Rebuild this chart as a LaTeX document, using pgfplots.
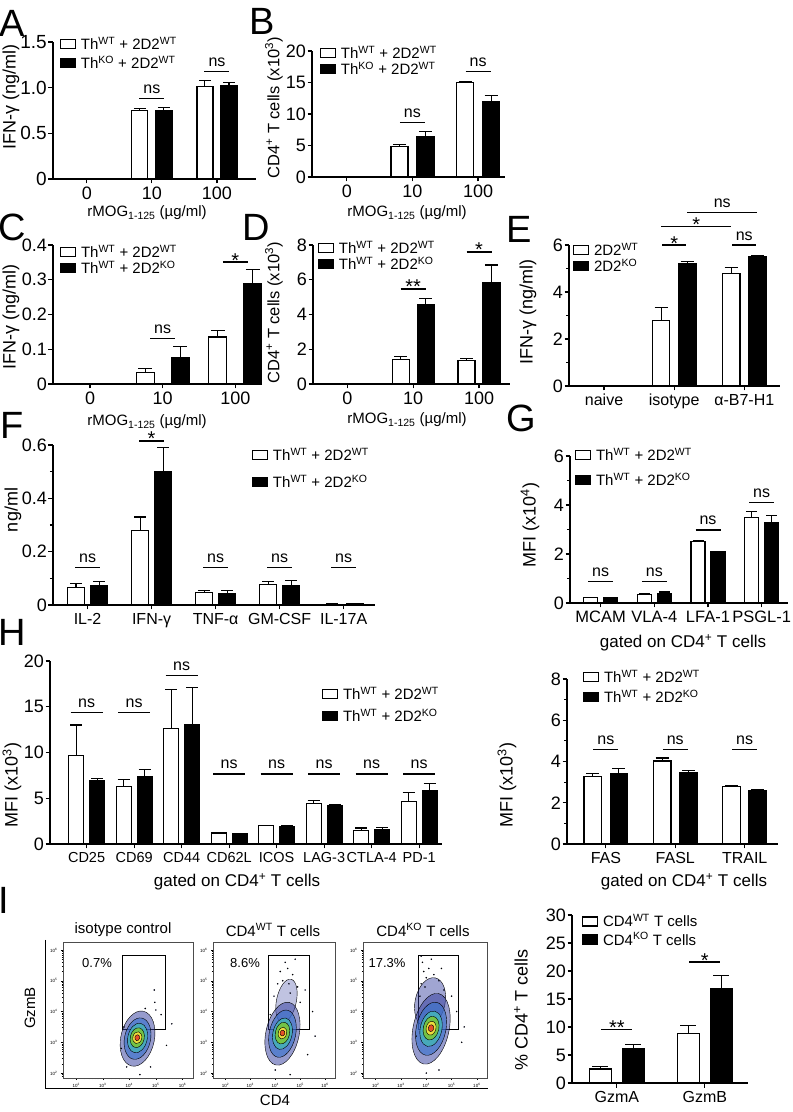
\documentclass[border=0pt]{standalone}
\usepackage{fontspec}
\setmainfont{Liberation Sans}
\usepackage{pgfplots}
\pgfplotsset{compat=1.18}

\newcommand\fTick{\fontsize{18}{18}\selectfont}
\newcommand\fTickA{\fontsize{19}{19}\selectfont}
\newcommand\fCat{\fontsize{16}{16}\selectfont}
\newcommand\fCatH{\fontsize{14.5}{14.5}\selectfont}
\newcommand\fCatG{\fontsize{16.5}{16.5}\selectfont}
\newcommand\fLab{\fontsize{18}{18}\selectfont}
\newcommand\fLabB{\fontsize{16.5}{16.5}\selectfont}
\newcommand\fXLab{\fontsize{15}{15}\selectfont}
\newcommand\fGLab{\fontsize{17}{17}\selectfont}
\newcommand\fLeg{\fontsize{15}{15}\selectfont}
\newcommand\fNs{\fontsize{16}{16}\selectfont}
\newcommand\fStar{\fontsize{20}{20}\selectfont}
\newcommand\fLet{\fontsize{38}{38}\selectfont}
\newcommand\fFlow{\fontsize{4.5}{5}\selectfont}
\newcommand\fFT{\fontsize{15}{15}\selectfont}

\definecolor{fBlue}{RGB}{45,55,155}
\definecolor{fBlue2}{RGB}{60,115,205}
\definecolor{fCyan}{RGB}{70,175,185}
\definecolor{fGreen}{RGB}{115,195,70}
\definecolor{fYellow}{RGB}{238,222,60}
\definecolor{fRed}{RGB}{228,80,40}

\pgfplotsset{
 prism/.style={
  scale only axis, clip=false, enlargelimits=false,
  axis x line*=bottom, axis y line*=left,
  axis line style={line width=1.3pt, -},
  every tick/.style={black, line width=1.2pt},
  tick align=outside, major tick length=4.5pt, minor tick length=3pt,
  ymin=0,
  /pgf/number format/assume math mode=true,
  yticklabel style={font=\fTick, inner sep=1.5pt}, xticklabel style={font=\fCat},
 },
 bwt/.style n args={2}{ybar, bar width=#1pt, bar shift=0pt, fill=white, draw=black, line width=1.2pt, forget plot,
   error bars/.cd, y dir=plus, y explicit, error bar style={line width=1.1pt, black},
   error mark options={rotate=90, mark size=#2pt, line width=1.1pt, black}},
 bko/.style n args={2}{ybar, bar width=#1pt, bar shift=0pt, fill=black, draw=black, line width=1.2pt, forget plot,
   error bars/.cd, y dir=plus, y explicit, error bar style={line width=1.1pt, black},
   error mark options={rotate=90, mark size=#2pt, line width=1.1pt, black}},
 legwt/.style={legend image code/.code={\draw[fill=white,draw=black,line width=1.2pt] (0pt,-4.5pt) rectangle (15pt,4.5pt); \path (19pt,0pt);}},
 legko/.style={legend image code/.code={\draw[fill=black,draw=black,line width=1.2pt] (0pt,-4.5pt) rectangle (15pt,4.5pt); \path (19pt,0pt);}},
 leg/.style 2 args={legend style={at={(axis description cs:#1)}, anchor=north west, draw=none, fill=none, font=\fLeg,
   inner sep=0pt, row sep=#2pt, nodes={inner sep=1pt}}, legend cell align=left},
 flow/.style={scale only axis, height=136pt, xmin=1.5, xmax=6.4, ymin=1.84, ymax=6.26,
   axis line style={line width=0.5pt, black!70}, tick pos=left, tick align=outside,
   xtick={2,3,4,5,6}, ytick={2,3,4,5,6},
   xticklabels={10\textsuperscript{2},10\textsuperscript{3},10\textsuperscript{4},10\textsuperscript{5},10\textsuperscript{6}},
   yticklabels={10\textsuperscript{2},10\textsuperscript{3},10\textsuperscript{4},10\textsuperscript{5},10\textsuperscript{6}},
   tick label style={font=\fFlow}, major tick length=2pt, minor tick length=1.2pt,
   every tick/.style={black, line width=0.4pt},
   minor xtick={1.602,1.699,1.778,1.845,1.903,1.954,2.301,2.477,2.602,2.699,2.778,2.845,2.903,2.954,3.301,3.477,3.602,3.699,3.778,3.845,3.903,3.954,4.301,4.477,4.602,4.699,4.778,4.845,4.903,4.954,5.301,5.477,5.602,5.699,5.778,5.845,5.903,5.954,6.301},
   minor ytick={1.903,1.954,2.301,2.477,2.602,2.699,2.778,2.845,2.903,2.954,3.301,3.477,3.602,3.699,3.778,3.845,3.903,3.954,4.301,4.477,4.602,4.699,4.778,4.845,4.903,4.954,5.301,5.477,5.602,5.699,5.778,5.845,5.903,5.954},
   clip=true},
 cloud/.style n args={4}{only marks, mark=*, mark size=#1pt, mark options={draw=none, fill=#2, fill opacity=#3, rotate=-12, xscale=#4}},
 dots/.style={only marks, mark=*, mark size=0.55pt, mark options={draw=none, fill=fBlue}},
}

\newcommand\sig[4]{\draw[line width=1.1pt] ([xshift=-#3pt]axis cs:#1,#2) -- ([xshift=#3pt]axis cs:#1,#2);
 \node[font=\fNs, anchor=base, inner sep=0pt] at ([yshift=5pt]axis cs:#1,#2) {#4};}
\newcommand\sigst[4]{\draw[line width=1.1pt] ([xshift=-#3pt]axis cs:#1,#2) -- ([xshift=#3pt]axis cs:#1,#2);
 \node[font=\fStar, anchor=base, inner sep=0pt] at ([yshift=-5pt]axis cs:#1,#2) {#4};}

\begin{document}
\begin{tikzpicture}[x=1pt,y=1pt]
\useasboundingbox (0,0) rectangle (793,1112);

% ---------------- A
\begin{axis}[prism, at={(53pt,933pt)}, anchor=south west, width=203pt, height=137pt,
  xmin=-0.52, xmax=2.6, ymax=1.5, xtick={0,1,2}, xticklabels={0,10,100},
  ytick={0,0.5,1,1.5}, yticklabels={0,0.5,1.0,1.5}, yticklabel style={font=\fTickA}, xticklabel style={font=\fTick},
  leg={0.034,1.044}{3}]
\addlegendimage{legwt}\addlegendentry{Th\textsuperscript{WT} + 2D2\textsuperscript{WT}}
\addlegendimage{legko}\addlegendentry{Th\textsuperscript{KO} + 2D2\textsuperscript{WT}}
\addplot[bwt={16}{6}] coordinates {(0.815,0.75) +- (0,0.02) (1.815,1.01) +- (0,0.07)};
\addplot[bko={16}{6}] coordinates {(1.185,0.75) +- (0,0.03) (2.185,1.02) +- (0,0.04)};
\sig{1}{0.88}{12.5}{ns}
\sig{2}{1.18}{12.5}{ns}
\end{axis}

% ---------------- B
\begin{axis}[prism, at={(312pt,935pt)}, anchor=south west, width=193pt, height=126pt,
  xmin=-0.53, xmax=2.41, ymax=20, xtick={0,1,2}, xticklabels={0,10,100},
  ytick={0,5,10,15,20}, xticklabel style={font=\fTick},
  leg={0.041,1.048}{0}]
\addlegendimage{legwt}\addlegendentry{Th\textsuperscript{WT} + 2D2\textsuperscript{WT}}
\addlegendimage{legko}\addlegendentry{Th\textsuperscript{KO} + 2D2\textsuperscript{WT}}
\addplot[bwt={17}{6.5}] coordinates {(-0.198,0.1) +- (0,0) (0.802,4.9) +- (0,0.3) (1.802,15.0) +- (0,0.2)};
\addplot[bko={17}{6.5}] coordinates {(0.198,0.1) +- (0,0) (1.198,6.4) +- (0,0.8) (2.198,11.9) +- (0,1.0)};
\sig{1}{8.6}{12.5}{ns}
\sig{2}{16.8}{12.5}{ns}
\end{axis}

% ---------------- C
\begin{axis}[prism, at={(53pt,728pt)}, anchor=south west, width=207pt, height=139pt,
  xmin=-0.51, xmax=2.34, ymax=0.4, xtick={0,1,2}, xticklabels={0,10,100},
  ytick={0,0.1,0.2,0.3,0.4}, yticklabels={0,0.1,0.2,0.3,0.4}, xticklabel style={font=\fTick},
  leg={0.034,1.007}{0}]
\addlegendimage{legwt}\addlegendentry{Th\textsuperscript{WT} + 2D2\textsuperscript{WT}}
\addlegendimage{legko}\addlegendentry{Th\textsuperscript{WT} + 2D2\textsuperscript{KO}}
\addplot[bwt={18}{7}] coordinates {(0.759,0.032) +- (0,0.012) (1.759,0.135) +- (0,0.02)};
\addplot[bko={18}{7}] coordinates {(1.241,0.075) +- (0,0.032) (2.241,0.29) +- (0,0.04)};
\sig{1}{0.132}{12.5}{ns}
\sigst{2}{0.351}{12.5}{*}
\end{axis}

% ---------------- D
\begin{axis}[prism, at={(313pt,728pt)}, anchor=south west, width=197pt, height=139pt,
  xmin=-0.52, xmax=2.47, ymax=8, xtick={0,1,2}, xticklabels={0,10,100},
  ytick={0,2,4,6,8}, xticklabel style={font=\fTick},
  leg={0.025,1.036}{0}]
\addlegendimage{legwt}\addlegendentry{Th\textsuperscript{WT} + 2D2\textsuperscript{WT}}
\addlegendimage{legko}\addlegendentry{Th\textsuperscript{WT} + 2D2\textsuperscript{KO}}
\addplot[bwt={17}{6.5}] coordinates {(-0.189,0.05) +- (0,0) (0.811,1.4) +- (0,0.2) (1.811,1.35) +- (0,0.12)};
\addplot[bko={17}{6.5}] coordinates {(0.189,0.03) +- (0,0) (1.189,4.55) +- (0,0.35) (2.189,5.85) +- (0,1.0)};
\sigst{1}{5.47}{12.5}{**}
\sigst{2}{7.6}{12.5}{*}
\end{axis}

% ---------------- E
\begin{axis}[prism, at={(569pt,726pt)}, anchor=south west, width=211pt, height=141pt,
  xmin=-0.5, xmax=2.51, ymax=6, xtick={0,1,2}, xticklabels={naive,isotype,α-B7-H1},
  ytick={0,2,4,6}, minor y tick num=1,
  leg={0.019,1.02}{0}]
\addlegendimage{legwt}\addlegendentry{2D2\textsuperscript{WT}}
\addlegendimage{legko}\addlegendentry{2D2\textsuperscript{KO}}
\addplot[bwt={17.5}{6.5}] coordinates {(0.814,2.8) +- (0,0.55) (1.814,4.8) +- (0,0.25)};
\addplot[bko={17.5}{6.5}] coordinates {(1.186,5.2) +- (0,0.08) (2.186,5.5) +- (0,0.03)};
\sigst{1}{6.0}{12}{*}
\sig{2}{6.0}{12}{ns}
\draw[line width=1.1pt] ([xshift=-13pt]axis cs:1,6.77) -- ([xshift=-13pt]axis cs:2,6.77);
\node[font=\fStar, anchor=base, inner sep=0pt] at ([xshift=-13pt,yshift=-5pt]axis cs:1.5,6.77) {*};
\draw[line width=1.1pt] ([xshift=13pt]axis cs:1,7.4) -- ([xshift=13pt]axis cs:2,7.4);
\node[font=\fNs, anchor=base, inner sep=0pt] at ([xshift=13pt,yshift=5pt]axis cs:1.5,7.4) {ns};
\end{axis}

% ---------------- F
\begin{axis}[prism, at={(53pt,507pt)}, anchor=south west, width=322pt, height=160pt,
  xmin=-0.54, xmax=4.49, ymax=0.6, xtick={0,1,2,3,4}, xticklabels={IL-2,IFN-γ,TNF-α,GM-CSF,IL-17A},
  ytick={0,0.2,0.4,0.6}, yticklabels={0,0.2,0.4,0.6}, minor y tick num=1,
  leg={0.618,0.99}{11}]
\addlegendimage{legwt}\addlegendentry{Th\textsuperscript{WT} + 2D2\textsuperscript{WT}}
\addlegendimage{legko}\addlegendentry{Th\textsuperscript{WT} + 2D2\textsuperscript{KO}}
\addplot[bwt={16.5}{6}] coordinates {(-0.18,0.065) +- (0,0.015) (0.82,0.28) +- (0,0.05) (1.82,0.048) +- (0,0.007) (2.82,0.077) +- (0,0.01) (3.82,0.003) +- (0,0.001)};
\addplot[bko={16.5}{6}] coordinates {(0.18,0.072) +- (0,0.015) (1.18,0.50) +- (0,0.09) (2.18,0.043) +- (0,0.01) (3.18,0.072) +- (0,0.02) (4.18,0.004) +- (0,0.001)};
\sig{0}{0.139}{12.5}{ns}
\sigst{1}{0.615}{12.5}{*}
\sig{2}{0.139}{12.5}{ns}
\sig{3}{0.139}{12.5}{ns}
\sig{4}{0.139}{12.5}{ns}
\end{axis}

% ---------------- G
\begin{axis}[prism, at={(570pt,509pt)}, anchor=south west, width=218pt, height=147pt,
  xmin=-0.57, xmax=3.49, ymax=6, xtick={0,1,2,3}, xticklabels={MCAM,VLA-4,LFA-1,PSGL-1},
  xticklabel style={font=\fCatG},
  ytick={0,2,4,6}, minor y tick num=1,
  leg={0.023,1.06}{9}]
\addlegendimage{legwt}\addlegendentry{Th\textsuperscript{WT} + 2D2\textsuperscript{WT}}
\addlegendimage{legko}\addlegendentry{Th\textsuperscript{WT} + 2D2\textsuperscript{KO}}
\addplot[bwt={14}{5.5}] coordinates {(-0.186,0.22) +- (0,0) (0.814,0.35) +- (0,0.03) (1.814,2.5) +- (0,0.05) (2.814,3.5) +- (0,0.22)};
\addplot[bko={14}{5.5}] coordinates {(0.186,0.22) +- (0,0) (1.186,0.40) +- (0,0.05) (2.186,2.08) +- (0,0.04) (3.186,3.28) +- (0,0.28)};
\sig{0}{0.86}{12.5}{ns}
\sig{1}{0.86}{12.5}{ns}
\sig{2}{2.98}{12.5}{ns}
\sig{3}{4.12}{12.5}{ns}
\end{axis}

% ---------------- H
\begin{axis}[prism, at={(50pt,268pt)}, anchor=south west, width=392pt, height=183pt,
  xmin=-0.77, xmax=7.48, ymax=20, xtick={0,...,7}, xticklabels={CD25,CD69,CD44,CD62L,ICOS,LAG-3,CTLA-4,PD-1},
  xticklabel style={font=\fCatH},
  ytick={0,5,10,15,20},
  leg={0.694,0.863}{6}]
\addlegendimage{legwt}\addlegendentry{Th\textsuperscript{WT} + 2D2\textsuperscript{WT}}
\addlegendimage{legko}\addlegendentry{Th\textsuperscript{WT} + 2D2\textsuperscript{KO}}
\addplot[bwt={15}{6}] coordinates {(-0.221,9.7) +- (0,3.3) (0.779,6.3) +- (0,0.7) (1.779,12.6) +- (0,4.3) (2.779,1.2) +- (0,0.1) (3.779,2.0) +- (0,0.05) (4.779,4.4) +- (0,0.35) (5.779,1.5) +- (0,0.25) (6.779,4.65) +- (0,1.0)};
\addplot[bko={15}{6}] coordinates {(0.221,6.9) +- (0,0.25) (1.221,7.35) +- (0,0.8) (2.221,13.0) +- (0,4.1) (3.221,1.1) +- (0,0.05) (4.221,1.95) +- (0,0.05) (5.221,4.2) +- (0,0.1) (6.221,1.6) +- (0,0.25) (7.221,5.8) +- (0,0.8)};
\sig{0}{14.4}{16}{ns}
\sig{1}{14.4}{16}{ns}
\sig{2}{18.4}{16}{ns}
\sig{3}{7.65}{16}{ns}
\sig{4}{7.65}{16}{ns}
\sig{5}{7.65}{16}{ns}
\sig{6}{7.65}{16}{ns}
\sig{7}{7.65}{16}{ns}
\end{axis}

% ---------------- H right
\begin{axis}[prism, at={(567pt,268pt)}, anchor=south west, width=211pt, height=165pt,
  xmin=-0.56, xmax=2.48, ymax=8, xtick={0,1,2}, xticklabels={FAS,FASL,TRAIL},
  ytick={0,2,4,6,8}, minor y tick num=1,
  leg={0.076,1.06}{4}]
\addlegendimage{legwt}\addlegendentry{Th\textsuperscript{WT} + 2D2\textsuperscript{WT}}
\addlegendimage{legko}\addlegendentry{Th\textsuperscript{WT} + 2D2\textsuperscript{KO}}
\addplot[bwt={17.5}{6.5}] coordinates {(-0.188,3.28) +- (0,0.15) (0.812,4.02) +- (0,0.15) (1.812,2.8) +- (0,0.02)};
\addplot[bko={17.5}{6.5}] coordinates {(0.188,3.4) +- (0,0.25) (1.188,3.45) +- (0,0.12) (2.188,2.6) +- (0,0.02)};
\sig{0}{4.6}{12.5}{ns}
\sig{1}{4.6}{12.5}{ns}
\sig{2}{4.6}{12.5}{ns}
\end{axis}

% ---------------- I bars
\begin{axis}[prism, at={(572pt,29pt)}, anchor=south west, width=176pt, height=168pt,
  xmin=-0.51, xmax=1.49, ymax=30, xtick={0,1}, xticklabels={GzmA,GzmB},
  ytick={0,5,10,15,20,25,30},
  leg={0.057,1.01}{2}]
\addlegendimage{legwt}\addlegendentry{CD4\textsuperscript{WT} T cells}
\addlegendimage{legko}\addlegendentry{CD4\textsuperscript{KO} T cells}
\addplot[bwt={22}{8}] coordinates {(-0.1875,2.5) +- (0,0.4) (0.8125,8.9) +- (0,1.3)};
\addplot[bko={22}{8}] coordinates {(0.1875,6.1) +- (0,0.7) (1.1875,16.8) +- (0,2.4)};
\sigst{0}{9.6}{15.5}{**}
\sigst{1}{21.6}{15.5}{*}
\end{axis}

% ---------------- I flow plots
\begin{axis}[flow, at={(63pt,34pt)}, anchor=south west, width=130pt]
\addplot[cloud={28}{fBlue}{0.5}{0.6}] coordinates {(4.31,3.12)};
\addplot[cloud={21}{fBlue2}{0.65}{0.62}] coordinates {(4.31,3.12)};
\addplot[cloud={15}{fCyan}{0.9}{0.65}] coordinates {(4.31,3.14)};
\addplot[cloud={10}{fGreen}{1}{0.7}] coordinates {(4.30,3.15)};
\addplot[cloud={6}{fYellow}{1}{0.75}] coordinates {(4.30,3.15)};
\addplot[cloud={3}{fRed}{1}{0.8}] coordinates {(4.30,3.15)};
\addplot[dots] coordinates {(4.94,4.7) (4.96,4.3) (5.2,3.9) (4.6,4.1) (5.6,3.6) (3.9,2.2) (4.4,1.95) (3.7,2.8) (5.4,2.9) (4.8,2.2) (5.0,4.05) (3.8,3.5)};
\addplot[black, line width=0.7pt] coordinates {(3.74,3.42) (5.35,3.42) (5.35,5.84) (3.74,5.84) (3.74,3.42)};
\end{axis}
\begin{axis}[flow, at={(213pt,34pt)}, anchor=south west, width=122pt]
\addplot[cloud={22}{fBlue}{0.3}{0.45}] coordinates {(4.45,4.35)};
\addplot[cloud={32}{fBlue}{0.5}{0.52}] coordinates {(4.29,3.28)};
\addplot[cloud={24}{fBlue2}{0.65}{0.55}] coordinates {(4.29,3.28)};
\addplot[cloud={16}{fCyan}{0.9}{0.6}] coordinates {(4.29,3.28)};
\addplot[cloud={11}{fGreen}{1}{0.65}] coordinates {(4.29,3.3)};
\addplot[cloud={6}{fYellow}{1}{0.7}] coordinates {(4.29,3.3)};
\addplot[cloud={3}{fRed}{1}{0.8}] coordinates {(4.29,3.3)};
\addplot[dots] coordinates {(4.5,5.4) (4.3,5.0) (4.7,5.2) (4.1,4.9) (4.9,4.8) (4.6,4.6) (5.0,4.3) (3.95,4.5) (4.4,5.6) (5.2,4.7) (5.5,4.0) (4.8,5.7) (3.8,3.9) (5.6,3.2) (4.0,2.1) (4.6,1.95) (5.3,2.6) (4.2,5.3) (4.55,4.9)};
\addplot[black, line width=0.7pt] coordinates {(3.72,3.42) (5.35,3.42) (5.35,5.84) (3.72,5.84) (3.72,3.42)};
\end{axis}
\begin{axis}[flow, at={(363pt,34pt)}, anchor=south west, width=124pt]
\addplot[cloud={25}{fBlue}{0.45}{0.6}] coordinates {(4.15,4.3)};
\addplot[cloud={36}{fBlue}{0.5}{0.5}] coordinates {(4.19,3.44)};
\addplot[cloud={27}{fBlue2}{0.65}{0.55}] coordinates {(4.19,3.44)};
\addplot[cloud={18}{fCyan}{0.9}{0.6}] coordinates {(4.19,3.44)};
\addplot[cloud={12}{fGreen}{1}{0.65}] coordinates {(4.19,3.46)};
\addplot[cloud={7}{fYellow}{1}{0.7}] coordinates {(4.19,3.46)};
\addplot[cloud={3.5}{fRed}{1}{0.8}] coordinates {(4.19,3.46)};
\addplot[dots] coordinates {(3.85,5.6) (3.9,5.3) (4.0,5.1) (3.8,4.9) (4.1,5.4) (4.3,5.2) (3.95,4.8) (4.5,5.0) (4.7,4.7) (5.0,4.5) (4.2,5.7) (3.75,4.5) (5.2,4.0) (5.5,3.5) (3.6,3.2) (4.0,2.0) (4.5,2.1) (5.4,3.0) (4.6,5.4) (3.8,5.8)};
\addplot[black, line width=0.7pt] coordinates {(3.69,3.42) (5.25,3.42) (5.25,5.84) (3.69,5.84) (3.69,3.42)};
\end{axis}

% ---------------- texts
\node[font=\fLet] at (12,1089) {A};
\node[font=\fLet] at (262,1091) {B};
\node[font=\fLet] at (12,885) {C};
\node[font=\fLet] at (256,885) {D};
\node[font=\fLet] at (519,883) {E};
\node[font=\fLet] at (12,687) {F};
\node[font=\fLet] at (521,694) {G};
\node[font=\fLet] at (12,480) {H};
\node[font=\fLet] at (4,212) {I};

\node[rotate=90, font=\fLab] at (11,1015) {IFN-γ (ng/ml)};
\node[rotate=90, font=\fLabB] at (274,1004) {CD4\textsuperscript{+} T cells (x10\textsuperscript{3})};
\node[rotate=90, font=\fLab] at (11,795) {IFN-γ (ng/ml)};
\node[rotate=90, font=\fLabB] at (274,799) {CD4\textsuperscript{+} T cells (x10\textsuperscript{3})};
\node[rotate=90, font=\fLab] at (528,800) {IFN-γ (ng/ml)};
\node[rotate=90, font=\fLab] at (13,602) {ng/ml};
\node[rotate=90, font=\fLab] at (530,587) {MFI (x10\textsuperscript{4})};
\node[rotate=90, font=\fLab] at (12,327) {MFI (x10\textsuperscript{3})};
\node[rotate=90, font=\fLab] at (507,327) {MFI (x10\textsuperscript{3})};
\node[rotate=90, font=\fLab] at (521,102) {\% CD4\textsuperscript{+} T cells};

\node[font=\fXLab] at (147,899) {rMOG\textsubscript{1-125} (µg/ml)};
\node[font=\fXLab] at (407,899) {rMOG\textsubscript{1-125} (µg/ml)};
\node[font=\fXLab] at (147,690) {rMOG\textsubscript{1-125} (µg/ml)};
\node[font=\fXLab] at (407,692) {rMOG\textsubscript{1-125} (µg/ml)};
\node[font=\fGLab] at (683,469) {gated on CD4\textsuperscript{+} T cells};
\node[font=\fGLab] at (237,230) {gated on CD4\textsuperscript{+} T cells};
\node[font=\fGLab] at (684,230) {gated on CD4\textsuperscript{+} T cells};

\node[font=\fFT] at (123,182) {isotype control};
\node[font=\fFT] at (273,182) {CD4\textsuperscript{WT} T cells};
\node[font=\fFT] at (423,182) {CD4\textsuperscript{KO} T cells};
\node[font=\fontsize{13}{13}\selectfont] at (97,149) {0.7\%};
\node[font=\fontsize{13}{13}\selectfont] at (245,149) {8.6\%};
\node[font=\fontsize{13}{13}\selectfont] at (387,149) {17.3\%};
\draw[line width=0.9pt] (45,172) -- (45,24) -- (488,24);
\node[rotate=90, font=\fFT] at (30,104) {GzmB};
\node[font=\fFT] at (275,12) {CD4};
\end{tikzpicture}
\end{document}
